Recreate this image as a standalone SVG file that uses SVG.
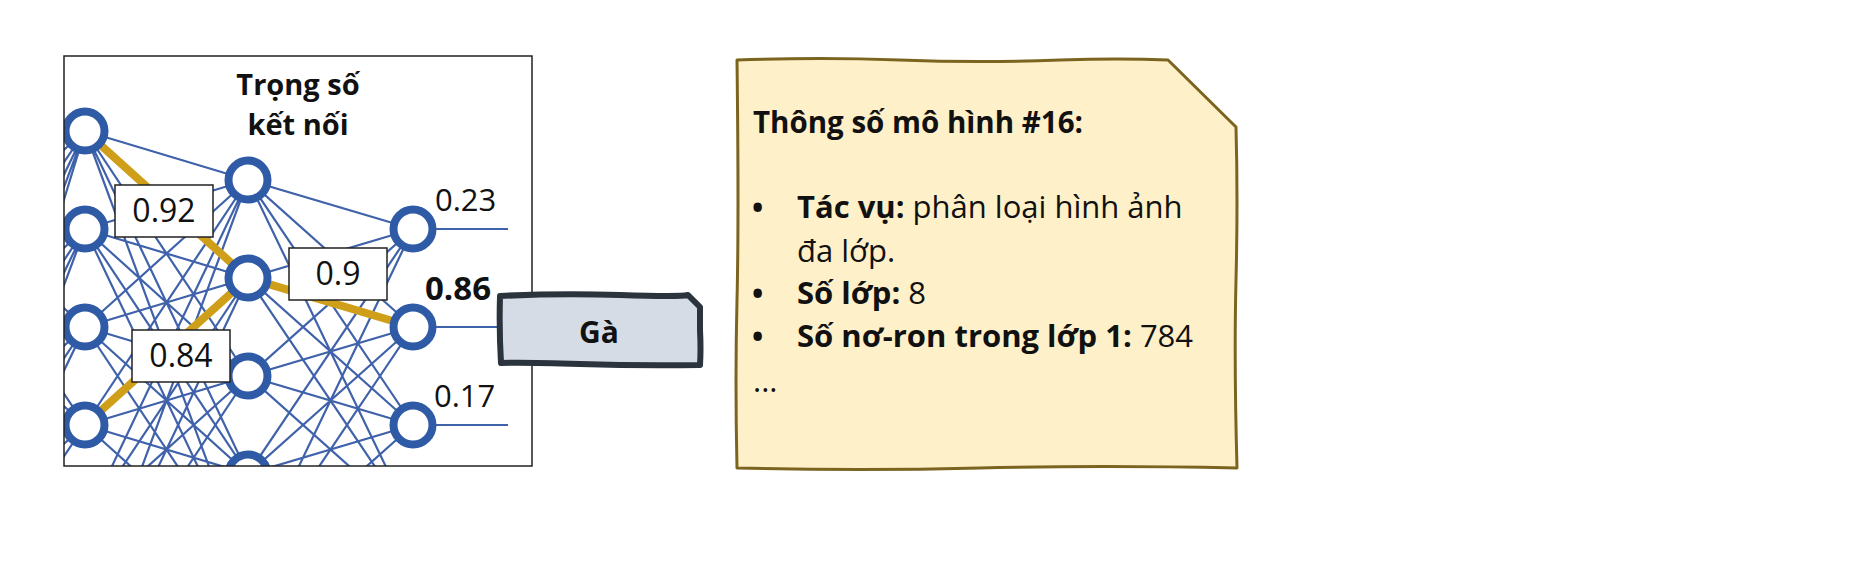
<svg xmlns="http://www.w3.org/2000/svg" width="1856" height="576" viewBox="0 0 1856 576">
<style>
.net{fill:none;stroke:#3F62AA;stroke-width:2.2}
.gold{fill:none;stroke:#CF9F19;stroke-width:8}
.node{fill:#fff;stroke:#2F5AA6;stroke-width:8}
.wbox{fill:#fff;stroke:#222;stroke-width:1.5}
.t{font-family:"Open Sans","Noto Sans","DejaVu Sans",sans-serif;fill:#111}
.b{font-weight:bold}
</style>
<defs>
<clipPath id="frameClip"><rect x="64" y="56" width="468" height="410"/></clipPath>
</defs>
<rect width="1856" height="576" fill="#fff"/>
<g id="network" clip-path="url(#frameClip)">
<g id="connectors">
<path class="net" d="M-80 180L85 131M-80 180L85 229M-80 180L85 327M-80 180L85 425M-80 180L85 523M-80 180L85 621M-80 278L85 131M-80 278L85 229M-80 278L85 327M-80 278L85 425M-80 278L85 523M-80 278L85 621M-80 376L85 131M-80 376L85 229M-80 376L85 327M-80 376L85 425M-80 376L85 523M-80 376L85 621M-80 474L85 131M-80 474L85 229M-80 474L85 327M-80 474L85 425M-80 474L85 523M-80 474L85 621M-80 572L85 131M-80 572L85 229M-80 572L85 327M-80 572L85 425M-80 572L85 523M-80 572L85 621M-80 670L85 131M-80 670L85 229M-80 670L85 327M-80 670L85 425M-80 670L85 523M-80 670L85 621"/>
<path class="net" d="M85 131L248 180M85 131L248 278M85 131L248 376M85 131L248 474M85 131L248 572M85 229L248 180M85 229L248 278M85 229L248 376M85 229L248 474M85 229L248 572M85 327L248 180M85 327L248 278M85 327L248 376M85 327L248 474M85 327L248 572M85 425L248 180M85 425L248 278M85 425L248 376M85 425L248 474M85 425L248 572M85 523L248 180M85 523L248 278M85 523L248 376M85 523L248 474M85 523L248 572M85 621L248 180M85 621L248 278M85 621L248 376M85 621L248 474M85 621L248 572"/>
<path class="net" d="M248 180L413 229M248 180L413 327M248 180L413 425M248 180L413 523M248 278L413 229M248 278L413 327M248 278L413 425M248 278L413 523M248 376L413 229M248 376L413 327M248 376L413 425M248 376L413 523M248 474L413 229M248 474L413 327M248 474L413 425M248 474L413 523M248 572L413 229M248 572L413 327M248 572L413 425M248 572L413 523"/>
<path class="net" d="M413 229H508M413 327H508M413 425H508"/>
<path class="gold" d="M85 131L248 278M85 425L248 278M248 278L413 327"/>
</g>
<g id="layer1">
<circle class="node" cx="85" cy="131" r="19.5"/>
<circle class="node" cx="85" cy="229" r="19.5"/>
<circle class="node" cx="85" cy="327" r="19.5"/>
<circle class="node" cx="85" cy="425" r="19.5"/>
<circle class="node" cx="85" cy="523" r="19.5"/>
</g>
<g id="layer2">
<circle class="node" cx="248" cy="180" r="19.5"/>
<circle class="node" cx="248" cy="278" r="19.5"/>
<circle class="node" cx="248" cy="376" r="19.5"/>
<circle class="node" cx="248" cy="474" r="19.5"/>
</g>
<g id="layer3">
<circle class="node" cx="413" cy="229" r="19.5"/>
<circle class="node" cx="413" cy="327" r="19.5"/>
<circle class="node" cx="413" cy="425" r="19.5"/>
</g>
<g id="w092">
<rect class="wbox" x="115" y="185" width="98" height="52"/>
<text class="t" x="164" y="222" font-size="32" text-anchor="middle">0.92</text>
</g>
<g id="w09">
<rect class="wbox" x="289" y="248" width="98" height="52"/>
<text class="t" x="338" y="285" font-size="32" text-anchor="middle">0.9</text>
</g>
<g id="w084">
<rect class="wbox" x="132" y="330" width="98" height="52"/>
<text class="t" x="181" y="367" font-size="32" text-anchor="middle">0.84</text>
</g>
<g id="outputs">
<text class="t" x="435" y="211" font-size="31">0.23</text>
<text class="t b" x="425" y="300" font-size="33">0.86</text>
<text class="t" x="434" y="407" font-size="31">0.17</text>
</g>
<g id="title">
<text class="t b" font-size="29" text-anchor="middle"><tspan x="298" y="95">Trọng số</tspan><tspan x="298" y="135">kết nối</tspan></text>
</g>
</g>
<rect id="frame" x="64" y="56" width="468" height="410" fill="none" stroke="#222" stroke-width="1.5"/>
<g id="label-ga">
<path d="M500 296Q560 293 620 295T688 295L700 307L700 330Q701 350 700 365Q640 366 580 364T501 363Q499 330 500 296Z" fill="#D6DCE6" stroke="#2B333D" stroke-width="6" stroke-linejoin="round"/>
<text class="t b" x="599" y="343" font-size="30" text-anchor="middle" fill="#333">Gà</text>
</g>
<g id="note">
<path d="M737 60Q820 57 900 60T1060 60Q1120 58 1168 60L1236 127Q1238 200 1236 280T1237 468Q1100 465 980 468T737 468Q735 380 737 300T737 60Z" fill="#FEF0C9" stroke="#7B6420" stroke-width="3" stroke-linejoin="round"/>
<text class="t b" x="753" y="133" font-size="29.5">Thông số mô hình #16:</text>
<text class="t b" x="752" y="218" font-size="30">•</text>
<text class="t" x="797" y="218" font-size="31"><tspan class="b">Tác vụ:</tspan> phân loại hình ảnh</text>
<text class="t" x="797" y="262" font-size="31">đa lớp.</text>
<text class="t b" x="752" y="304" font-size="30">•</text>
<text class="t" x="797" y="304" font-size="31"><tspan class="b">Số lớp:</tspan> 8</text>
<text class="t b" x="752" y="347" font-size="30">•</text>
<text class="t" x="797" y="347" font-size="31"><tspan class="b">Số nơ-ron trong lớp 1:</tspan> 784</text>
<text class="t" x="753" y="392" font-size="31">...</text>
</g>
</svg>
